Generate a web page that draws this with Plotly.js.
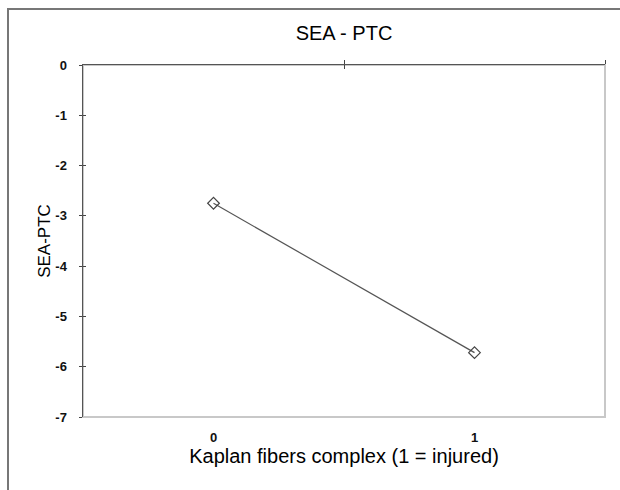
<!DOCTYPE html>
<html>
<head>
<meta charset="utf-8">
<script src="https://cdn.plot.ly/plotly-3.0.1.min.js"></script>
<style>
html,body{margin:0;padding:0;background:#fff;}
#chart{width:620px;height:490px;}
</style>
</head>
<body>
<div id="chart"></div>
<script>
var categories = [0, 1];
var tickLabels = ["0", "1"];
var seaPtc = [-2.75, -5.72];
var yTicks = [0, -1, -2, -3, -4, -5, -6, -7];
var yTickLabels = ["0", "-1", "-2", "-3", "-4", "-5", "-6", "-7"];

var trace = {
  x: categories,
  y: seaPtc,
  type: 'scatter',
  mode: 'lines+markers',
  line: {color: '#555555', width: 1.2},
  marker: {symbol: 'diamond-open', size: 9, color: '#444444', line: {width: 1.2, color: '#444444'}},
  hoverinfo: 'skip',
  showlegend: false
};

var font = "'Liberation Sans', Arial, Helvetica, sans-serif";

var layout = {
  width: 620, height: 490,
  margin: {l: 83, r: 15, t: 65, b: 73},
  paper_bgcolor: '#ffffff',
  plot_bgcolor: '#ffffff',
  showlegend: false,
  font: {family: font, color: '#000000'},
  title: {text: 'SEA - PTC', font: {family: font, size: 20, color: '#000000'},
          x: 0.5, xref: 'paper', y: 1 - 33/490, yref: 'container', yanchor: 'middle'},
  xaxis: {
    range: [-0.5, 1.5], tickmode: 'array', tickvals: categories, ticktext: tickLabels,
    showgrid: false, zeroline: false, showline: false, ticks: '',
    ticklabelstandoff: 11,
    tickfont: {size: 13, color: '#111111', family: font, weight: 'bold'},
    title: {text: 'Kaplan fibers complex (1 = injured)', font: {size: 20, color: '#000000', family: font}, standoff: 2},
    fixedrange: true
  },
  xaxis2: {
    overlaying: 'x', side: 'top', anchor: 'y',
    range: [-0.5, 1.5], tickmode: 'array', tickvals: [0.5, 1.5],
    showticklabels: false, ticks: 'outside', ticklen: 4, tickwidth: 1, tickcolor: '#444444',
    showline: true, linecolor: '#555555', linewidth: 1.5,
    showgrid: false, zeroline: false, fixedrange: true
  },
  xaxis3: {
    overlaying: 'x', side: 'top', anchor: 'y',
    range: [-0.5, 1.5], tickmode: 'array', tickvals: [0.5, 1.5],
    showticklabels: false, ticks: 'inside', ticklen: 4, tickwidth: 1, tickcolor: '#444444',
    showline: false, showgrid: false, zeroline: false, fixedrange: true
  },
  yaxis: {
    range: [-7, 0], tickmode: 'array', tickvals: yTicks, ticktext: yTickLabels,
    ticks: 'outside', ticklen: 3, tickwidth: 1, tickcolor: '#444444',
    ticklabelstandoff: 9,
    showline: true, linecolor: '#555555', linewidth: 1.5,
    showgrid: false, zeroline: false,
    tickfont: {size: 13, color: '#111111', family: font, weight: 'bold'},
    title: {text: 'SEA-PTC', font: {size: 17, color: '#000000', family: font}, standoff: 0},
    fixedrange: true
  },
  yaxis2: {
    overlaying: 'y', side: 'left', anchor: 'x',
    range: [-7, 0], tickmode: 'array', tickvals: yTicks,
    ticks: 'inside', ticklen: 3, tickwidth: 1, tickcolor: '#444444',
    showticklabels: false, showline: false, showgrid: false, zeroline: false, fixedrange: true
  },
  shapes: [
    {type: 'rect', xref: 'paper', yref: 'paper', x0: 0, x1: 1, y0: 0, y1: 1,
     line: {color: '#c8c8c8', width: 2}, fillcolor: 'rgba(0,0,0,0)', layer: 'below'},
    {type: 'rect', xref: 'paper', yref: 'paper',
     x0: (8 - 83) / 522, x1: (630 - 83) / 522, y0: (417 - 500) / 352, y1: (417 - 9) / 352,
     line: {color: '#777777', width: 2}, fillcolor: 'rgba(0,0,0,0)', layer: 'below'}
  ]
};

var dummyX2 = {x: [0], y: [0], xaxis: 'x2', yaxis: 'y', mode: 'markers', marker: {opacity: 0}, hoverinfo: 'skip', showlegend: false};
var dummyX3 = {x: [0], y: [0], xaxis: 'x3', yaxis: 'y', mode: 'markers', marker: {opacity: 0}, hoverinfo: 'skip', showlegend: false};
var dummyY2 = {x: [0], y: [0], xaxis: 'x', yaxis: 'y2', mode: 'markers', marker: {opacity: 0}, hoverinfo: 'skip', showlegend: false};

Plotly.newPlot('chart', [dummyX2, dummyX3, dummyY2, trace], layout, {displayModeBar: false, staticPlot: true});
</script>
</body>
</html>
